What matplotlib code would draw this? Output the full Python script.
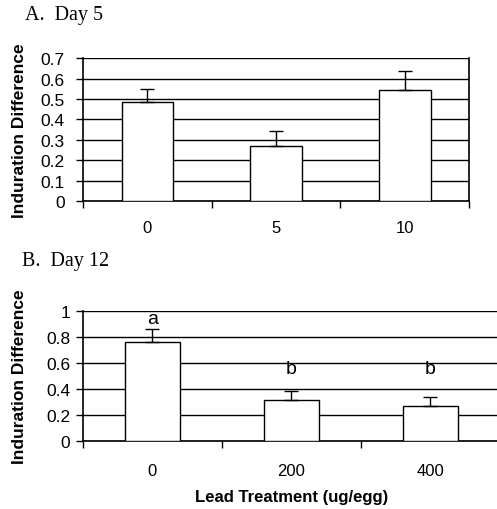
import numpy as np
import matplotlib
matplotlib.use("Agg")
import matplotlib.pyplot as plt


# Induration difference by lead treatment (means with upper error bars)
day5_labels = ["0", "5", "10"]
day5_means = [0.485, 0.27, 0.545]
day5_errors = [0.065, 0.073, 0.092]

day12_labels = ["0", "200", "400"]
day12_means = [0.765, 0.315, 0.27]
day12_errors = [0.10, 0.07, 0.065]
day12_letters = ["a", "b", "b"]

plt.rcParams["font.family"] = ["Liberation Sans", "DejaVu Sans"]

fig = plt.figure(figsize=(4.97, 5.10), dpi=100)

ax_a = fig.add_axes([0.167, 0.604, 0.777, 0.280])
ax_b = fig.add_axes([0.167, 0.1333, 0.839, 0.255])


def draw_panel(ax, labels, means, errors, ymax, ystep, xpad, ypad, ylab_x):
    pos = np.arange(len(means)) + 0.5

    ax.bar(
        pos,
        means,
        width=0.4,
        color="white",
        edgecolor="black",
        linewidth=1.0,
        zorder=3
    )

    ax.errorbar(
        pos,
        means,
        yerr=[np.zeros(len(errors)), errors],
        fmt="none",
        ecolor="black",
        elinewidth=1.0,
        capsize=5,
        capthick=1.0,
        zorder=4
    )

    ax.set_xlim(0, len(means))
    ax.set_ylim(0, ymax)

    yt = np.arange(0, ymax + ystep / 2, ystep)
    ax.set_yticks(yt)
    ax.set_yticklabels(["0"] + ["%g" % v for v in yt[1:]], fontsize=12.5)

    # category boundaries carry the tick marks, labels sit in the middle
    ax.set_xticks(np.arange(len(means) + 1))
    ax.set_xticklabels([])
    ax.set_xticks(pos, minor=True)
    ax.set_xticklabels(labels, minor=True, fontsize=12)
    ax.tick_params(axis="x", which="minor", length=0, pad=xpad)
    ax.tick_params(axis="x", which="major", length=5, width=1.0, direction="out")
    ax.tick_params(axis="y", length=5, width=1.0, direction="out", pad=ypad)

    ax.yaxis.grid(True, color="black", linewidth=1.0)
    ax.set_axisbelow(True)

    for side in ["left", "bottom", "right"]:
        ax.spines[side].set_linewidth(1.2)
        ax.spines[side].set_color("black")
    ax.spines["top"].set_visible(False)

    ax.set_ylabel("Induration Difference", fontsize=12.5, fontweight="bold")
    ax.yaxis.set_label_coords(ylab_x, 0.5)


draw_panel(ax_a, day5_labels, day5_means, day5_errors, 0.7, 0.1, 14, 8, -0.145)
draw_panel(ax_b, day12_labels, day12_means, day12_errors, 1.0, 0.2, 16, 4, -0.134)
ax_b.spines["right"].set_visible(False)

for x, m, e, letter in zip(np.arange(3) + 0.5, day12_means, day12_errors, day12_letters):
    y = m + e + 0.01 if letter == "a" else 0.49
    ax_b.text(x, y, letter, ha="center", va="bottom", fontsize=14)

ax_b.set_xlabel("Lead Treatment (ug/egg)", fontsize=12, fontweight="bold", labelpad=8)

fig.text(0.05, 0.97, "A.  Day 5", family="Liberation Serif", fontsize=14.5, va="center")
fig.text(0.045, 0.487, "B.  Day 12", family="Liberation Serif", fontsize=14.5, va="center")

fig.savefig("out.png", dpi=100)
